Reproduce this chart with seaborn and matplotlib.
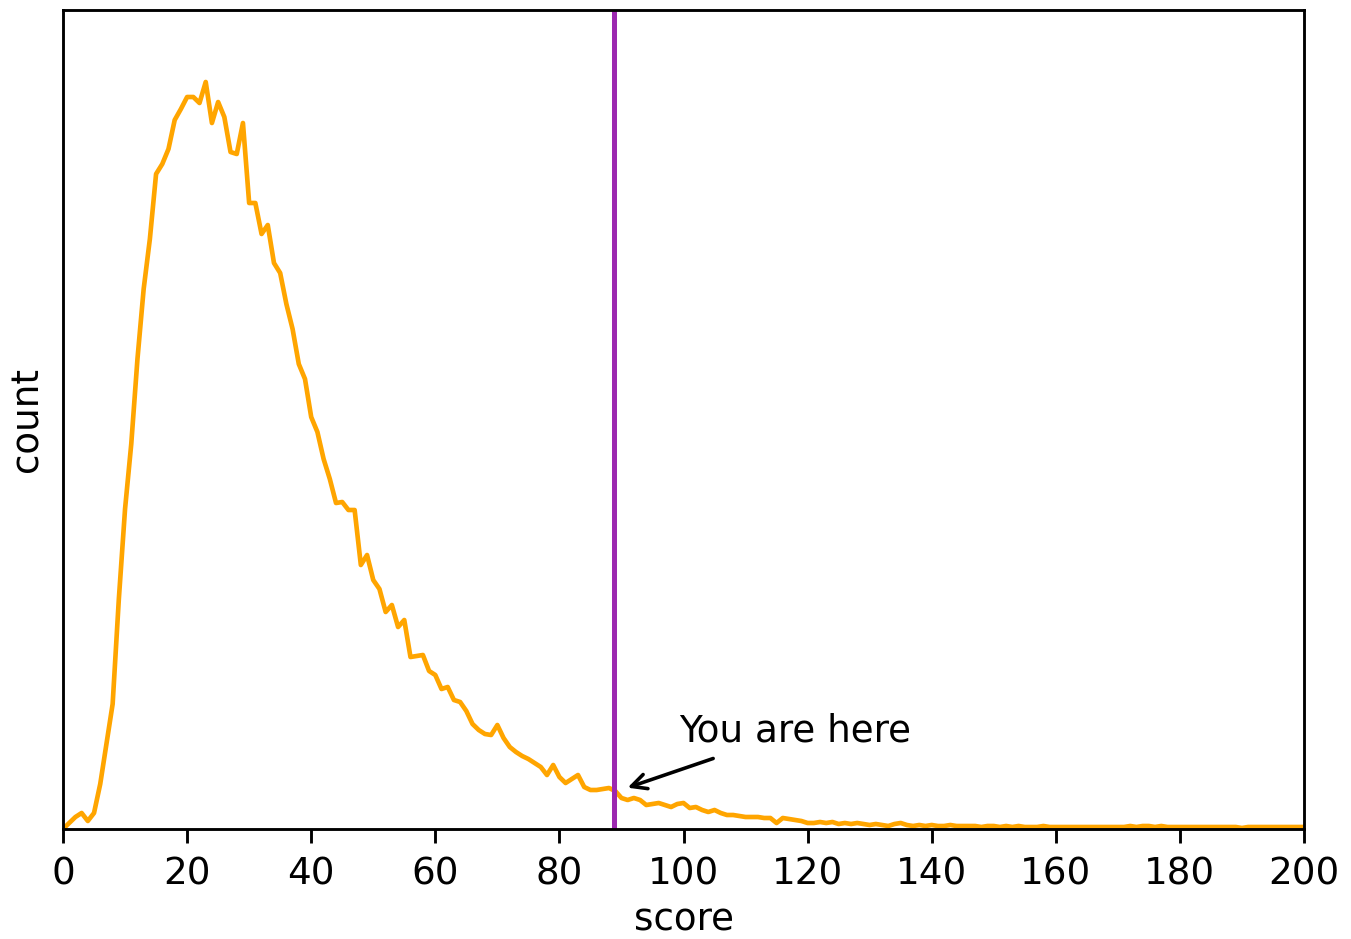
import numpy as np
import pandas as pd
import seaborn as sns
import matplotlib
matplotlib.use("Agg")
import matplotlib.pyplot as plt

# score bins 0..200 and the (unscaled) count per bin
scores = list(range(0, 201))
counts = [
    0, 6, 12, 16, 8, 16, 45, 85, 125, 230,
    320, 385, 470, 540, 590, 655, 665, 680, 709, 720,
    732, 732, 726, 747, 706, 727, 712, 677, 675, 706,
    626, 626, 595, 604, 566, 556, 525, 500, 465, 450,
    412, 397, 370, 350, 326, 327, 319, 319, 264, 274,
    249, 240, 217, 224, 202, 209, 172, 173, 174, 158,
    154, 140, 142, 129, 127, 118, 105, 99, 95, 94,
    104, 91, 82, 77, 73, 70, 66, 62, 54, 64,
    52, 46, 50, 54, 42, 39, 39, 40, 41, 38,
    31, 29, 31, 29, 24, 25, 26, 24, 22, 25,
    26, 21, 22, 19, 17, 19, 16, 14, 14, 13,
    12, 12, 12, 11, 11, 6, 11, 10, 9, 8,
    6, 6, 7, 6, 7, 5, 6, 5, 6, 5,
    4, 5, 4, 3, 5, 6, 4, 3, 4, 3,
    4, 3, 3, 4, 3, 3, 3, 3, 2, 3,
    3, 2, 3, 2, 3, 2, 2, 2, 3, 2,
    2, 2, 2, 2, 2, 2, 2, 2, 2, 2,
    2, 2, 3, 2, 3, 3, 2, 3, 2, 2,
    2, 2, 2, 2, 2, 2, 2, 2, 2, 2,
    1, 2, 2, 2, 2, 2, 2, 2, 2, 2,
    2,
]
xticks = list(range(0, 201, 20))
my_score = 88.8
label = "You are here"

df = pd.DataFrame({"score": scores, "count": counts})

dpi = 258
fs = 10.4
fig = plt.figure(figsize=(1351 / dpi, 939 / dpi), dpi=dpi)
ax = fig.add_axes([63 / 1351, 1 - 829 / 939, (1304 - 63) / 1351, (829 - 10) / 939])

sns.lineplot(data=df, x="score", y="count", color="orange", linewidth=1.3, ax=ax)
ax.axvline(my_score, color="#9c27b0", linewidth=1.4)

ax.annotate(label, xy=(89.9, 39), xytext=(99.3, 88),
            fontsize=fs, arrowprops=dict(arrowstyle="->", color="black"))

ax.set_xlim(0, 200)
ax.set_ylim(0, 819)
ax.set_xticks(xticks)
ax.set_yticks([])
ax.tick_params(axis="x", labelsize=fs, length=4)
ax.set_xlabel("score", fontsize=fs, labelpad=2.5)
ax.set_ylabel("count", fontsize=fs, labelpad=5)

fig.savefig("out.png", dpi=dpi)
